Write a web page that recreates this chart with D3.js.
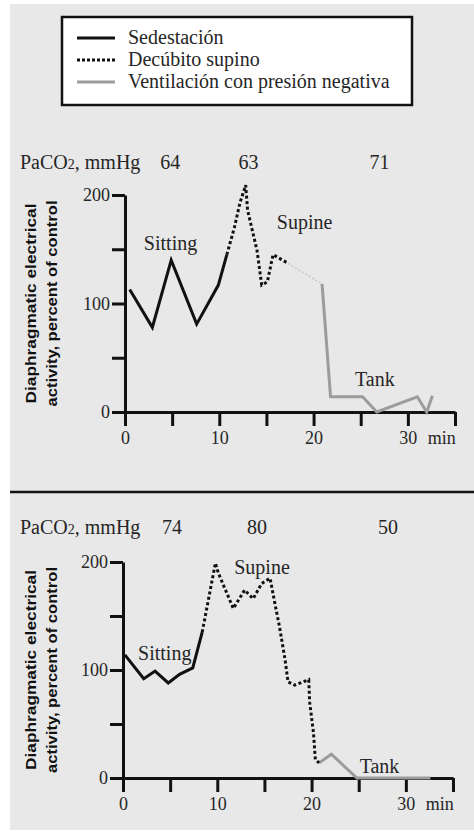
<!DOCTYPE html>
<html>
<head>
<meta charset="utf-8">
<script src="https://cdn.jsdelivr.net/npm/d3@7"></script>
<style>
  html, body { margin: 0; padding: 0; background: #ffffff; }
  svg { display: block; }
</style>
</head>
<body>
<svg id="chart" width="474" height="831"></svg>
<script>
// ---------------- DATA ----------------
const legendLabels = ["Sedestación", "Decúbito supino", "Ventilación con presión negativa"];
const paco2Label = "PaCO2, mmHg";
const xTicks = [0, 5, 10, 15, 20, 25, 30, 35];
const xTickLabels = [0, 10, 20, 30];
const yTicks = [0, 50, 100, 150, 200];
const yTickLabels = [0, 100, 200];
const yTitle1 = "Diaphragmatic electrical";
const yTitle2 = "activity, percent of control";

// top panel  [minute, % of control]
const topSitting = [[0.5,113],[2.9,78],[4.9,140],[7.6,81],[9.9,117],[10.8,145]];
const topSupine  = [[10.8,145],[11.6,170],[12.2,193],[12.8,209],[13.0,186],[14.0,149],[14.5,117],[15.1,120],[15.7,145],[17.3,137]];
const topGap     = [[17.3,137],[20.9,118]];
const topTank    = [[20.9,118],[21.8,14],[25.2,14],[26.7,0],[31.0,14],[32.0,0],[32.6,15]];
const topPaco2Values = ["64", "63", "71"];
const topPaco2Times  = [4.8, 13.1, 27.0];

// bottom panel
const botSitting = [[0.2,114],[2.2,92],[3.4,99],[4.8,88],[6.0,96],[7.4,102],[8.4,135]];
const botSupine  = [[8.4,135],[9.8,199],[10.1,190],[11.7,157],[12.9,174],[13.8,166],[14.7,180],[15.6,185],[16.1,162],[16.6,140],[17.2,109],[17.5,89],[18.2,86],[19.7,91],[19.8,70],[20.2,42],[20.4,17],[20.8,14]];
const botTank    = [[20.8,14],[22.1,22],[24.8,0],[32.6,0]];
const botPaco2Values = ["74", "80", "50"];
const botPaco2Times  = [5.2, 14.2, 28.1];

// ---------------- STYLE ----------------
const BG = "#e8e8e8";
const TXT = "#262626";
const GRAY = "#9c9c9c";
const SERIF = "'Liberation Serif', 'DejaVu Serif', serif";

const svg = d3.select("#chart");
svg.append("rect").attr("x", 10).attr("y", 4).attr("width", 464).attr("height", 826).attr("fill", BG);

// legend
const lg = svg.append("g");
lg.append("rect").attr("x", 62).attr("y", 17).attr("width", 350).attr("height", 88)
  .attr("fill", "#ffffff").attr("stroke", "#111").attr("stroke-width", 2.5);
const legendStyles = [
  {stroke: "#111", dash: null, w: 2.8},
  {stroke: "#111", dash: "3,2", w: 3},
  {stroke: GRAY, dash: null, w: 2.8}
];
const legendY = d3.scalePoint().domain(legendLabels).range([38, 82]);
legendLabels.forEach((lab, i) => {
  const y = legendY(lab);
  lg.append("line").attr("x1", 77).attr("x2", 115).attr("y1", y).attr("y2", y)
    .attr("stroke", legendStyles[i].stroke).attr("stroke-width", legendStyles[i].w)
    .attr("stroke-dasharray", legendStyles[i].dash);
  lg.append("text").attr("x", 128).attr("y", y).attr("dy", "0.32em")
    .attr("font-family", SERIF).attr("font-size", 20).attr("fill", TXT).text(lab);
});

// separator
svg.append("line").attr("x1", 10).attr("x2", 474).attr("y1", 492).attr("y2", 492)
  .attr("stroke", "#111").attr("stroke-width", 2.5);

function panel(cfg) {
  const x = d3.scaleLinear().domain([0, 35]).range([cfg.x0, cfg.x1]);
  const y = d3.scaleLinear().domain([0, 200]).range([cfg.y0, cfg.y1]);
  const g = svg.append("g");

  // PaCO2 row
  const pr = g.append("text").attr("x", 20).attr("y", cfg.pacoY)
    .attr("font-family", SERIF).attr("font-size", 20).attr("fill", TXT);
  pr.append("tspan").text("PaCO");
  pr.append("tspan").attr("font-size", 14).text("2");
  pr.append("tspan").text(", mmHg");
  cfg.pacoVals.forEach((v, i) => {
    g.append("text").attr("x", x(cfg.pacoTimes[i])).attr("y", cfg.pacoY)
      .attr("text-anchor", "middle").attr("font-family", SERIF).attr("font-size", 20)
      .attr("fill", TXT).text(v);
  });

  // y-axis title
  const cy = (cfg.y0 + cfg.y1) / 2;
  [[yTitle1, 36, 200], [yTitle2, 57, 206]].forEach(([t, xx, len]) => {
    g.append("text").attr("transform", `translate(${xx},${cy}) rotate(-90)`)
      .attr("text-anchor", "middle")
      .attr("font-family", "'Liberation Sans', Arial, sans-serif").attr("font-weight", "bold")
      .attr("font-size", 15).attr("fill", "#111")
      .attr("textLength", len).attr("lengthAdjust", "spacingAndGlyphs").text(t);
  });

  // axes
  const xAxis = d3.axisBottom(x).tickValues(xTicks).tickSize(14).tickSizeOuter(0).tickPadding(5)
    .tickFormat(d => xTickLabels.includes(d) ? d : "");
  const yAxis = d3.axisLeft(y).tickValues(yTicks).tickSize(13).tickSizeOuter(0).tickPadding(2)
    .tickFormat(d => yTickLabels.includes(d) ? d : "");
  const gx = g.append("g").attr("transform", `translate(0,${cfg.y0})`).call(xAxis);
  const gy = g.append("g").attr("transform", `translate(${cfg.x0},0)`).call(yAxis);
  [gx, gy].forEach(a => {
    a.select(".domain").attr("stroke", "#111").attr("stroke-width", 3);
    a.selectAll(".tick line").attr("stroke", "#111").attr("stroke-width", 3);
    a.selectAll("text").attr("font-family", SERIF).attr("font-size", 18).attr("fill", TXT);
  });
  g.append("text").attr("x", x(33.6)).attr("y", cfg.y0 + 19).attr("dy", "0.71em")
    .attr("text-anchor", "middle").attr("font-family", SERIF).attr("font-size", 18)
    .attr("fill", TXT).text("min");

  const line = d3.line().x(d => x(d[0])).y(d => y(d[1]));
  g.append("path").datum(cfg.sitting).attr("d", line).attr("fill", "none")
    .attr("stroke", "#111").attr("stroke-width", 3).attr("stroke-linejoin", "miter");
  if (cfg.gap) g.append("path").datum(cfg.gap).attr("d", line).attr("fill", "none")
    .attr("stroke", "#c4c4c4").attr("stroke-width", 1.3).attr("stroke-dasharray", "2,2");
  g.append("path").datum(cfg.tank).attr("d", line).attr("fill", "none")
    .attr("stroke", GRAY).attr("stroke-width", 3).attr("stroke-linejoin", "miter");
  g.append("path").datum(cfg.supine).attr("d", line).attr("fill", "none")
    .attr("stroke", "#111").attr("stroke-width", 3).attr("stroke-dasharray", "3,2.5");

  // annotations
  cfg.notes.forEach(n => {
    g.append("text").attr("x", x(n[1])).attr("y", y(n[2]))
      .attr("font-family", SERIF).attr("font-size", 20).attr("fill", TXT).text(n[0]);
  });
}

panel({x0: 125, x1: 455, y0: 412, y1: 195, pacoY: 169,
  pacoVals: topPaco2Values, pacoTimes: topPaco2Times,
  sitting: topSitting, supine: topSupine, gap: topGap, tank: topTank,
  notes: [["Sitting", 2.0, 149], ["Supine", 16.1, 169], ["Tank", 24.4, 24]]});

panel({x0: 123, x1: 453, y0: 778, y1: 562, pacoY: 534,
  pacoVals: botPaco2Values, pacoTimes: botPaco2Times,
  sitting: botSitting, supine: botSupine, gap: null, tank: botTank,
  notes: [["Sitting", 1.6, 109], ["Supine", 11.8, 189], ["Tank", 25.1, 5]]});
</script>
</body>
</html>
